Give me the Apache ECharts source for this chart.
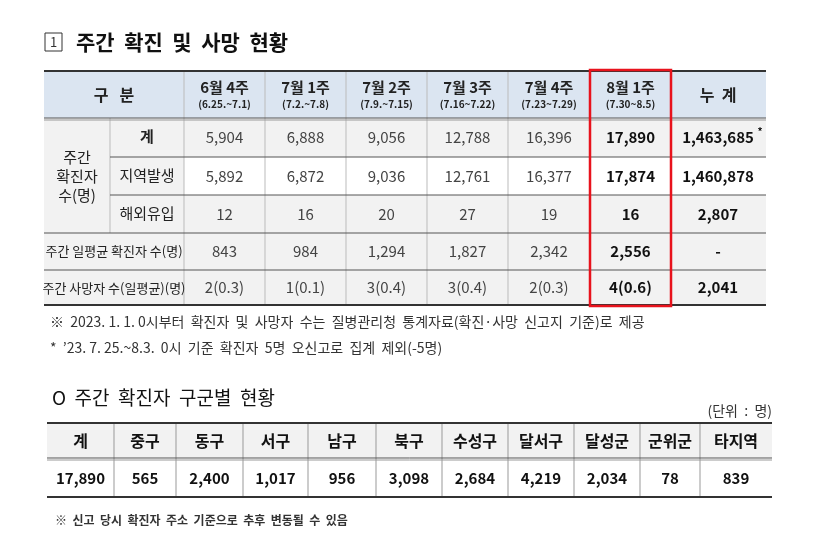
<!DOCTYPE html>
<html><head><meta charset="utf-8">
<script src="https://cdn.jsdelivr.net/npm/echarts@6/dist/echarts.min.js"></script>
<style>html,body{margin:0;background:#fff}#main{width:830px;height:539px}</style>
</head><body><div id="main"></div>
<script>
var weeks = ['6월 4주', '7월 1주', '7월 2주', '7월 3주', '7월 4주', '8월 1주'];
var weekDates = ['(6.25.~7.1)', '(7.2.~7.8)', '(7.9.~7.15)', '(7.16~7.22)', '(7.23~7.29)', '(7.30~8.5)'];
var totals = ['5,904', '6,888', '9,056', '12,788', '16,396', '17,890'];
var localCases = ['5,892', '6,872', '9,036', '12,761', '16,377', '17,874'];
var overseas = ['12', '16', '20', '27', '19', '16'];
var dailyAvg = ['843', '984', '1,294', '1,827', '2,342', '2,556'];
var deaths = ['2(0.3)', '1(0.1)', '3(0.4)', '3(0.4)', '2(0.3)', '4(0.6)'];
var cumulative = ['1,463,685', '1,460,878', '2,807', '-', '2,041'];
var districts = ['계', '중구', '동구', '서구', '남구', '북구', '수성구', '달서구', '달성군', '군위군', '타지역'];
var districtValues = ['17,890', '565', '2,400', '1,017', '956', '3,098', '2,684', '4,219', '2,034', '78', '839'];

var FONT = '"Noto Sans CJK KR", sans-serif';
var g = [];
function rect(x, y, w, h, fill, stroke, lw) {
  g.push({type: 'rect', shape: {x: x, y: y, width: w, height: h},
    style: {fill: fill || 'none', stroke: stroke || null, lineWidth: lw || 0}});
}
function line(x1, y1, x2, y2, c, w) {
  g.push({type: 'line', shape: {x1: x1, y1: y1, x2: x2, y2: y2}, style: {stroke: c, lineWidth: w}});
}
function txt(x, y, t, size, bold, color, align) {
  g.push({type: 'text', x: x, y: y, style: {text: t, font: (bold ? 'bold ' : '') + size + 'px ' + FONT,
    fill: color || '#222', align: align || 'center', verticalAlign: 'middle'}});
}

// title
rect(45, 33, 17, 18, '#fff', '#333', 1);
txt(53.5, 42, '1', 13, false, '#333');
txt(76, 42, '주간  확진  및  사망  현황', 21, true, '#111', 'left');

// table 1
var cols = [184, 265, 346, 427, 508, 590, 671, 766];
var rows = [71, 118, 157, 195, 233, 270, 305];
rect(44, 71, 722, 47, '#dbe5f1');
rect(44, 118, 140, 187, '#f2f2f2');
rect(184, 118, 582, 39, '#f2f2f2');
rect(184, 195, 582, 110, '#f2f2f2');
line(184, 71, 184, 305, '#bbb', 1);
for (var i = 1; i < cols.length - 1; i++) line(cols[i], 71, cols[i], 305, '#bbb', 1);
line(110, 118, 110, 233, '#bbb', 1);
for (var r = 2; r < rows.length - 1; r++) line(r < 4 ? 110 : 44, rows[r], 766, rows[r], '#555', 1);
line(44, 118, 766, 118, '#555', 1);
line(44, 120, 766, 120, '#999', 1);
line(44, 71, 766, 71, '#333', 2);
line(44, 305, 766, 305, '#333', 2);

txt(114, 95, '구   분', 16, true);
weeks.forEach(function (w, i) {
  var cx = (cols[i] + cols[i + 1]) / 2;
  txt(cx, 87, w, 15, true);
  txt(cx, 104, weekDates[i], 10, true, '#222');
});
txt(718, 95, '누  계', 16, true);

txt(77, 157, '주간', 15, false);
txt(77, 176, '확진자', 15, false);
txt(77, 195, '수(명)', 15, false);
txt(147, 136, '계', 15, true);
txt(147, 175, '지역발생', 15, false);
txt(147, 213, '해외유입', 15, false);
txt(114, 251, '주간 일평균 확진자 수(명)', 13, false);
txt(114, 288, '주간 사망자 수(일평균)(명)', 13, false);

[totals, localCases, overseas, dailyAvg, deaths].forEach(function (arr, r) {
  var cy = (rows[r + 1] + rows[r + 2]) / 2;
  arr.forEach(function (v, i) {
    var last = i === arr.length - 1;
    txt((cols[i] + cols[i + 1]) / 2, cy, v, 15, last, last ? '#111' : '#444');
  });
  txt(718, cy, cumulative[r], 15, true, '#111');
});
txt(760, 131, '*', 10, true, '#111');
rect(590, 70, 81, 236, 'none', '#e8121c', 2.5);

// notes
txt(50, 322, '※  2023. 1. 1. 0시부터  확진자  및  사망자  수는  질병관리청  통계자료(확진·사망  신고지  기준)로  제공', 14, false, '#333', 'left');
txt(50, 348, '*  \u201923. 7. 25.~8.3.  0시  기준  확진자  5명  오신고로  집계  제외(-5명)', 14, false, '#333', 'left');

// table 2
txt(52, 398, 'O  주간  확진자  구군별  현황', 19, false, '#111', 'left');
txt(772, 411, '(단위  :  명)', 14, false, '#333', 'right');
var c2 = [47, 114, 176, 243, 308, 376, 442, 508, 574, 640, 700, 772];
rect(47, 423, 725, 35, '#f2f2f2');
for (var k = 1; k < c2.length - 1; k++) line(c2[k], 423, c2[k], 497, '#999', 1);
line(47, 423, 772, 423, '#333', 2);
line(47, 458, 772, 458, '#555', 1);
line(47, 460, 772, 460, '#999', 1);
line(47, 497, 772, 497, '#333', 2);
districts.forEach(function (d, i) {
  var cx = (c2[i] + c2[i + 1]) / 2;
  txt(cx, 441, d, 16, true, '#111');
  txt(cx, 478, districtValues[i], 15, true, '#111');
});
txt(55, 520, '※  신고  당시  확진자  주소  기준으로  추후  변동될  수  있음', 12, true, '#333', 'left');

var chart = echarts.init(document.getElementById('main'));
chart.setOption({animation: false, graphic: g});
</script></body></html>
